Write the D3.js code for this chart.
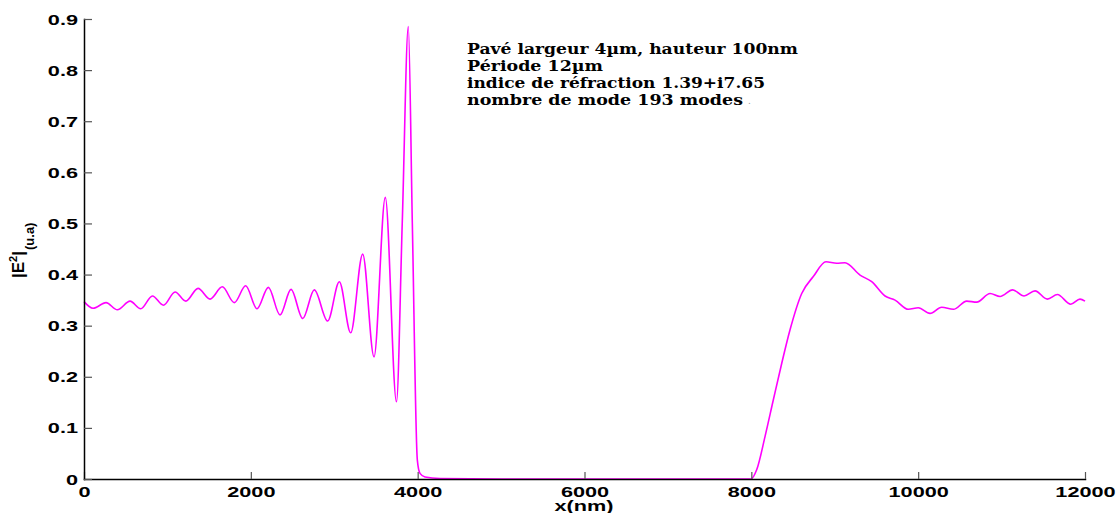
<!DOCTYPE html>
<html>
<head>
<meta charset="utf-8">
<script src="https://cdn.jsdelivr.net/npm/d3@7"></script>
<style>
  html, body { margin: 0; padding: 0; background: #fff; }
  svg { display: block; }
</style>
</head>
<body>
<svg id="chart" width="1118" height="513"></svg>
<script>
// Field intensity |E|^2 along x (nm): sampled peaks, troughs and edges of the profile
const xNm = [
  0, 108, 264, 400, 552, 680, 820, 952, 1092, 1220, 1367, 1511, 1658, 1802,
  1938, 2074, 2210, 2350, 2482, 2622, 2761, 2921, 3061, 3197, 3341, 3477,
  3612, 3746, 3815, 3888, 3936, 3996, 4028, 4088, 4268, 5000, 6000, 7000,
  7996, 8064, 8164, 8264, 8364, 8464, 8604, 8743, 8895, 9023, 9123, 9303,
  9443, 9603, 9723, 9882, 10002, 10142, 10282, 10422, 10582, 10702, 10862,
  10982, 11133, 11269, 11401, 11549, 11669, 11829, 11940, 12000
];
const intensity = [
  0.347, 0.334, 0.345, 0.331, 0.348, 0.333, 0.358, 0.340, 0.366, 0.348, 0.373, 0.352, 0.376, 0.345,
  0.378, 0.333, 0.375, 0.321, 0.371, 0.314, 0.370, 0.309, 0.386, 0.286, 0.440, 0.239,
  0.551, 0.151, 0.500, 0.885, 0.500, 0.037, 0.011, 0.004, 0.001, 0.0, 0.0, 0.0,
  0.0, 0.018, 0.083, 0.155, 0.226, 0.292, 0.363, 0.396, 0.425, 0.422, 0.423, 0.399,
  0.386, 0.358, 0.350, 0.332, 0.335, 0.324, 0.336, 0.332, 0.348, 0.346, 0.363,
  0.357, 0.370, 0.358, 0.368, 0.352, 0.361, 0.342, 0.352, 0.348
];

const xTicks = [0, 2000, 4000, 6000, 8000, 10000, 12000];
const yTicks = [0, 0.1, 0.2, 0.3, 0.4, 0.5, 0.6, 0.7, 0.8, 0.9];

const infoLines = [
  "Pavé largeur 4µm, hauteur 100nm",
  "Période 12µm",
  "indice de réfraction 1.39+i7.65",
  "nombre de mode 193 modes"
];

const svg = d3.select("#chart");
const plotLeft = 84, plotRight = 1085, plotTop = 19, plotBottom = 479;

const x = d3.scaleLinear().domain([0, 12000]).range([plotLeft, plotRight]);
const y = d3.scaleLinear().domain([0, 0.9]).range([plotBottom, plotTop]);

const data = xNm.map((v, i) => ({ x: v, y: intensity[i] }));

// Curve
svg.append("path")
  .datum(data)
  .attr("fill", "none")
  .attr("stroke", "#ff00ff")
  .attr("stroke-width", 1.6)
  .attr("stroke-linejoin", "round")
  .attr("d", d3.line().x(d => x(d.x)).y(d => y(d.y)).curve(d3.curveMonotoneX));

const sx = 1.55; // wide bold digits
const tickFont = "'Liberation Sans', Arial, sans-serif";

// Bottom axis, ticks pointing into the plot
const gx = svg.append("g")
  .attr("transform", `translate(0,${plotBottom})`)
  .call(d3.axisBottom(x).tickValues(xTicks).tickSizeInner(-7).tickSizeOuter(0).tickPadding(8)
    .tickFormat(d3.format("d")));
gx.select(".domain").attr("stroke", "#000").attr("stroke-width", 1.5);
gx.selectAll(".tick line").attr("stroke", "#555").attr("stroke-width", 1.2);
gx.selectAll(".tick text")
  .attr("font-family", tickFont).attr("font-weight", "bold").attr("font-size", 14)
  .attr("fill", "#000")
  .attr("transform", `scale(${sx},1)`);

// Left axis, ticks pointing into the plot
const gy = svg.append("g")
  .attr("transform", `translate(${plotLeft},0)`)
  .call(d3.axisLeft(y).tickValues(yTicks).tickSizeInner(-8).tickSizeOuter(0)
    .tickFormat(d => d === 0 ? "0" : d3.format(".1f")(d)));
gy.select(".domain").attr("stroke", "#000").attr("stroke-width", 1.5);
gy.selectAll(".tick line").attr("stroke", "#555").attr("stroke-width", 1.2);
gy.selectAll(".tick text")
  .attr("font-family", tickFont).attr("font-weight", "bold").attr("font-size", 14)
  .attr("fill", "#000")
  .attr("x", -6 / sx)
  .attr("dy", "0.36em")
  .attr("transform", `scale(${sx},1)`);
svg.selectAll(".domain").attr("stroke-linecap", "square");

// X axis title
svg.append("text")
  .attr("transform", `translate(584,511) scale(${sx},1)`)
  .attr("text-anchor", "middle")
  .attr("font-family", tickFont).attr("font-weight", "bold").attr("font-size", 14)
  .text("x(nm)");

// Y axis title |E²|(u.a)
const yt = svg.append("text")
  .attr("transform", "translate(24,278) rotate(-90)")
  .attr("font-family", "'Liberation Sans', Arial, sans-serif")
  .attr("font-weight", "bold")
  .attr("fill", "#000");
yt.append("tspan").attr("font-size", 17).text("|E");
yt.append("tspan").attr("font-size", 11).attr("dy", -7).text("2");
yt.append("tspan").attr("font-size", 17).attr("dy", 7).text("|");
yt.append("tspan").attr("font-size", 13).attr("dy", 10).attr("dx", 1).text("(u.a)");

// Simulation parameters
const info = svg.append("g").attr("font-family", "'DejaVu Serif', 'Liberation Serif', serif")
  .attr("font-weight", "bold").attr("font-size", 14).attr("fill", "#000");
const infoWidths = [331, 136, 298, 276];
infoLines.forEach((t, i) => {
  info.append("text")
    .attr("x", 467).attr("y", 54 + i * 17)
    .attr("textLength", infoWidths[i]).attr("lengthAdjust", "spacingAndGlyphs")
    .text(t);
});
svg.append("text").attr("x", 748).attr("y", 104)
  .attr("font-family", "'DejaVu Serif', serif").attr("font-size", 9).attr("fill", "#999").text(".");
</script>
</body>
</html>
